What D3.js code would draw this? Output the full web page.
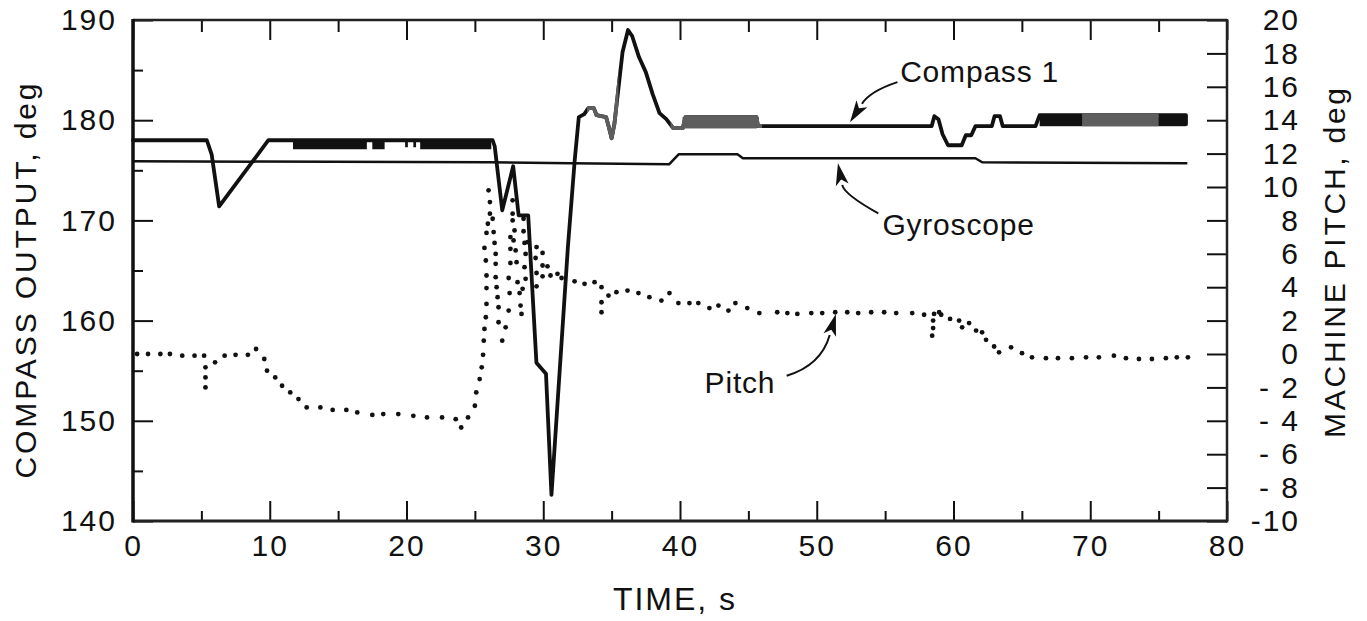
<!DOCTYPE html>
<html>
<head>
<meta charset="utf-8">
<script src="https://cdn.jsdelivr.net/npm/d3@7"></script>
<style>
  html, body { margin: 0; padding: 0; background: #fff; }
  svg { display: block; }
  text { font-family: "Liberation Sans", Arial, sans-serif; fill: #111; }
</style>
</head>
<body>
<svg id="chart" width="1367" height="621"></svg>
<script>
// ---------------- data ----------------
const timeTicks = [0, 10, 20, 30, 40, 50, 60, 70, 80];
const timeMinorTicks = [5, 15, 25, 35, 45, 55, 65, 75];
const compassTicks = [140, 150, 160, 170, 180, 190];
const compassMinorTicks = [145, 155, 165, 175, 185];
const pitchTicks = [-10, -8, -6, -4, -2, 0, 2, 4, 6, 8, 10, 12, 14, 16, 18, 20];

// Compass 1 heading (deg) vs time (s)
const compassPts = [
  [0,178.0],[5.4,178.0],[5.75,176.6],[6.3,171.4],[9.9,178.0],[26.3,178.0],[26.45,177.4],
  [27.0,171.0],[27.8,175.4],[28.2,170.5],[28.9,170.5],[29.5,155.8],[30.2,154.7],[30.6,142.6],
  [31.8,167.3],[32.3,176.0],[32.6,180.3],[33.0,180.6],[33.3,181.2],[33.7,181.2],[33.9,180.5],
  [34.6,180.3],[34.8,179.3],[35.0,178.2],[35.2,179.6],[35.4,182.0],[35.8,186.8],[36.2,189.0],
  [36.5,188.4],[37.0,186.3],[37.5,184.8],[38.0,182.6],[38.5,180.7],[39.0,180.1],[39.5,179.2],
  [40.2,179.2],[40.4,180.3],[45.6,180.3],[45.7,179.4],[58.4,179.4],[58.6,180.4],[58.9,180.1],
  [59.2,178.6],[59.6,177.5],[60.6,177.5],[60.9,178.5],[61.3,178.5],[61.6,179.4],[62.8,179.4],
  [63.0,180.4],[63.4,180.4],[63.6,179.4],[66.0,179.4],[66.3,180.5],[77.0,180.5],[77.0,179.6]
];
// dense jitter bands of the compass trace: [t0, t1, low, high]
const compassNoise = [
  [11.7,17.1,177.1,178.0],[17.5,18.4,177.1,178.0],[19.9,20.1,177.3,178.0],[20.5,20.7,177.3,178.0],
  [21.0,26.2,177.1,178.0],[40.2,45.6,179.2,180.3],[66.3,77.0,179.4,180.5]
];
// time ranges where the compass trace is printed grey
const compassGrayRanges = [[33.2,35.5],[39.3,46.0],[69.4,75.0]];

// Gyroscope heading (deg)
const gyroPts = [
  [0,175.9],[26,175.8],[32,175.7],[39.2,175.6],[39.9,176.6],[44.2,176.6],[44.6,176.2],
  [61.6,176.2],[62.1,175.8],[77.1,175.7]
];

// Machine pitch (deg), plotted as dots
const pitchPts = [
  [0.3,0.0],[1.1,0.0],[2.0,0.0],[2.7,0.0],[3.6,-0.1],[4.5,-0.1],[5.2,-0.1],[5.3,-0.8],[5.3,-1.4],[5.3,-2.0],
  [6.0,-0.5],[6.7,-0.1],[7.5,-0.05],[8.4,-0.05],[9.0,0.3],[9.6,-0.3],[9.8,-1.0],[10.4,-1.4],[10.9,-1.9],
  [11.5,-2.3],[12.1,-2.7],[12.7,-3.2],[13.7,-3.2],[14.6,-3.35],[15.6,-3.35],[16.4,-3.5],[17.5,-3.65],
  [18.3,-3.6],[19.4,-3.6],[20.5,-3.7],[21.5,-3.8],[22.6,-3.8],[23.6,-3.9],[24.0,-4.4],[24.5,-3.8],
  [25.0,-3.1],[25.1,-2.3],[25.35,-1.5],[25.5,-0.8],[25.6,-0.05],[25.65,0.8],[25.7,1.5],[25.8,2.2],
  [25.85,3.0],[25.85,3.95],[25.85,4.7],[25.8,5.6],[25.7,6.35],[25.85,7.25],[25.95,7.8],[26.1,8.4],
  [26.1,9.1],[26.0,9.8],
  [26.3,8.1],[26.37,7.3],[26.44,6.65],[26.52,6.0],[26.52,5.4],[26.52,4.6],[26.59,4.0],[26.66,3.4],
  [26.73,2.8],[26.73,1.9],[27.25,1.6],[27.0,0.8],
  [27.76,9.2],[27.76,8.4],[27.76,8.0],[27.9,7.4],[27.6,7.0],[27.83,6.8],[27.6,6.3],[27.98,6.2],
  [27.6,5.45],[28.05,5.5],[27.47,4.55],[28.12,4.3],[27.54,3.65],[28.27,3.65],[27.47,2.6],[28.34,2.9],[28.41,2.4],
  [28.56,8.1],[28.56,7.35],[28.63,6.65],[28.71,6.0],[28.63,5.2],[28.71,4.5],[28.49,3.9],
  [28.85,6.7],[29.51,6.4],[29.95,6.05],[29.44,5.75],[29.95,5.3],[30.31,5.25],[29.51,4.85],[29.95,4.65],
  [30.53,4.7],[31.04,4.8],[31.34,4.55],[29.51,4.05],[32.29,4.35],[33.02,4.2],[33.75,4.3],[34.26,4.0],
  [34.26,3.1],[34.26,2.5],[34.77,3.5],
  [35.35,3.7],[36.16,3.8],[36.96,3.65],[37.76,3.4],[38.64,3.2],[39.23,3.65],[39.88,3.05],[40.69,3.05],
  [41.34,3.05],[42.15,2.75],[42.81,2.9],[43.54,2.6],[44.05,3.05],[44.92,2.75],[45.8,2.45],[47.11,2.5],
  [47.85,2.45],[48.58,2.4],[49.6,2.45],[50.4,2.45],[51.35,2.5],[52.23,2.5],[53.03,2.45],[53.98,2.5],
  [54.93,2.5],[55.81,2.45],[56.98,2.45],[57.85,2.35],[58.58,2.4],[58.95,2.5],[58.51,2.0],[58.51,1.55],
  [58.44,1.1],[59.1,2.35],[59.75,2.1],[60.41,2.0],[60.63,1.6],[61.14,1.85],[61.65,1.4],[62.09,1.3],
  [62.38,0.85],[62.97,0.45],[63.33,0.1],[64.21,0.4],[65.01,0.05],[65.74,-0.2],[66.76,-0.25],[67.64,-0.25],
  [68.66,-0.25],[69.69,-0.2],[70.63,-0.2],[71.73,-0.1],[72.61,-0.25],[73.56,-0.3],[74.51,-0.3],
  [75.53,-0.25],[76.33,-0.2],[77.14,-0.2]
];

// annotations: label position and arrow (start, control, tip) in data units
const annotations = [
  { text: "Compass 1", axis: "L", at: [56.1, 183.8], arrow: [[55.9, 183.8], [53.9, 182.9], [52.43, 179.8]] },
  { text: "Gyroscope", axis: "L", at: [54.8, 168.5], arrow: [[54.5, 170.7], [52.0, 172.6], [51.55, 175.7]] },
  { text: "Pitch",     axis: "R", at: [41.8, -2.33], arrow: [[47.8, -1.3], [50.3, -0.7], [51.4, 2.4]] }
];

(function () {
// ---------------- layout ----------------
const svg = d3.select("#chart");
const pL = 133, pR = 1227, pT = 20, pB = 521;
const x = d3.scaleLinear().domain([0, 80]).range([pL, pR]);
const yL = d3.scaleLinear().domain([140, 190]).range([pB, pT]);
const yR = d3.scaleLinear().domain([-10, 20]).range([pB, pT]);
const FONT = 30;

function styleAxis(g) {
  g.select(".domain").remove();
  g.selectAll(".tick line").attr("stroke", "#111").attr("stroke-width", 2);
  g.selectAll(".tick text").attr("font-size", FONT).attr("font-family", "Liberation Sans, Arial, sans-serif")
    .attr("fill", "#111").attr("letter-spacing", "2px");
}

// left axis
svg.append("g").attr("transform", `translate(${pL},0)`)
  .call(d3.axisLeft(yL).tickValues(compassTicks).tickSizeInner(-20).tickSizeOuter(0).tickPadding(16).tickFormat(d3.format("d")))
  .call(styleAxis);
svg.append("g").attr("transform", `translate(${pL},0)`)
  .call(d3.axisLeft(yL).tickValues(compassMinorTicks).tickSizeInner(-10).tickSizeOuter(0).tickFormat(""))
  .call(styleAxis);

// right axis
const rAx = svg.append("g").attr("transform", `translate(${pR},0)`)
  .call(d3.axisRight(yR).tickValues(pitchTicks).tickSizeInner(-20).tickSizeOuter(0).tickPadding(10)
    .tickFormat(d => d < 0 && d > -10 ? "- " + Math.abs(d) : (d === -10 ? "-10" : String(d))))
  .call(styleAxis);
rAx.selectAll(".tick text").attr("text-anchor", "end").attr("x", 73);

// bottom axis
svg.append("g").attr("transform", `translate(0,${pB})`)
  .call(d3.axisBottom(x).tickValues(timeTicks).tickSizeInner(-20).tickSizeOuter(0).tickPadding(14).tickFormat(d3.format("d")))
  .call(styleAxis);
svg.append("g").attr("transform", `translate(0,${pB})`)
  .call(d3.axisBottom(x).tickValues(timeMinorTicks).tickSizeInner(-10).tickSizeOuter(0).tickFormat(""))
  .call(styleAxis);
// top axis (ticks only)
svg.append("g").attr("transform", `translate(0,${pT})`)
  .call(d3.axisTop(x).tickValues(timeTicks).tickSizeInner(-20).tickSizeOuter(0).tickFormat(""))
  .call(styleAxis);
svg.append("g").attr("transform", `translate(0,${pT})`)
  .call(d3.axisTop(x).tickValues(timeMinorTicks).tickSizeInner(-12).tickSizeOuter(0).tickFormat(""))
  .call(styleAxis);

// frame
svg.append("line").attr("x1", pL).attr("x2", pR).attr("y1", pT).attr("y2", pT).attr("stroke", "#222").attr("stroke-width", 2.5);
svg.append("line").attr("x1", pL).attr("x2", pR).attr("y1", pB).attr("y2", pB).attr("stroke", "#222").attr("stroke-width", 3);
svg.append("line").attr("x1", pL).attr("x2", pL).attr("y1", pT - 1).attr("y2", pB + 1.5).attr("stroke", "#111").attr("stroke-width", 3.5);
svg.append("line").attr("x1", pR).attr("x2", pR).attr("y1", pT - 1).attr("y2", pB + 1.5).attr("stroke", "#222").attr("stroke-width", 2.5);

// axis titles
svg.append("text").attr("x", 674).attr("y", 610).attr("text-anchor", "middle")
  .attr("font-size", 32).attr("textLength", 122).attr("lengthAdjust", "spacing").text("TIME, s");
svg.append("text").attr("transform", "translate(36,281) rotate(-90)").attr("text-anchor", "middle")
  .attr("font-size", 30).attr("textLength", 395).attr("lengthAdjust", "spacing").text("COMPASS OUTPUT, deg");
svg.append("text").attr("transform", "translate(1345,263) rotate(-90)").attr("text-anchor", "middle")
  .attr("font-size", 30).attr("textLength", 350).attr("lengthAdjust", "spacing").text("MACHINE PITCH, deg");

// ---------------- series ----------------
const lineL = d3.line().x(d => x(d[0])).y(d => yL(d[1]));

const defs = svg.append("defs");
const clip = defs.append("clipPath").attr("id", "grayClip");
clip.selectAll("rect").data(compassGrayRanges).join("rect")
  .attr("x", d => x(d[0])).attr("width", d => x(d[1]) - x(d[0]))
  .attr("y", pT).attr("height", pB - pT);

function drawCompass(g, color) {
  g.selectAll("rect.noise").data(compassNoise).join("rect").attr("class", "noise")
    .attr("x", d => x(d[0])).attr("width", d => x(d[1]) - x(d[0]))
    .attr("y", d => yL(d[3])).attr("height", d => yL(d[2]) - yL(d[3]))
    .attr("fill", color);
  g.append("path").datum(compassPts).attr("d", lineL)
    .attr("fill", "none").attr("stroke", color).attr("stroke-width", 3.8)
    .attr("stroke-linejoin", "round").attr("stroke-linecap", "round");
}

// gyroscope
svg.append("path").datum(gyroPts).attr("d", lineL)
  .attr("fill", "none").attr("stroke", "#111").attr("stroke-width", 2.5).attr("stroke-linejoin", "round");

// pitch dots
svg.append("g").selectAll("circle").data(pitchPts).join("circle")
  .attr("cx", d => x(d[0])).attr("cy", d => yR(d[1])).attr("r", 2.4).attr("fill", "#111");

// compass trace
drawCompass(svg.append("g"), "#111");
drawCompass(svg.append("g").attr("clip-path", "url(#grayClip)"), "#5e5e5e");

// ---------------- annotations ----------------
annotations.forEach(a => {
  const yS = a.axis === "L" ? yL : yR;
  const P = a.arrow.map(p => [x(p[0]), yS(p[1])]);
  svg.append("text").attr("x", x(a.at[0])).attr("y", yS(a.at[1]))
    .attr("font-size", 30).attr("letter-spacing", "0.8px").text(a.text);
  const [s, c, t] = P;
  const ang = Math.atan2(t[1] - c[1], t[0] - c[0]);
  const L = 22, Wd = 6.5;
  const bx = t[0] - L * Math.cos(ang), by = t[1] - L * Math.sin(ang);
  svg.append("path").attr("d", `M${s[0]},${s[1]} Q${c[0]},${c[1]} ${bx},${by}`)
    .attr("fill", "none").attr("stroke", "#111").attr("stroke-width", 2);
  const nx = -Math.sin(ang), ny = Math.cos(ang);
  svg.append("path").attr("d",
    `M${t[0]},${t[1]} L${bx + nx * Wd},${by + ny * Wd} L${bx + 0.25 * L * Math.cos(ang)},${by + 0.25 * L * Math.sin(ang)} L${bx - nx * Wd},${by - ny * Wd} Z`)
    .attr("fill", "#111");
});
})();
</script>
</body>
</html>
